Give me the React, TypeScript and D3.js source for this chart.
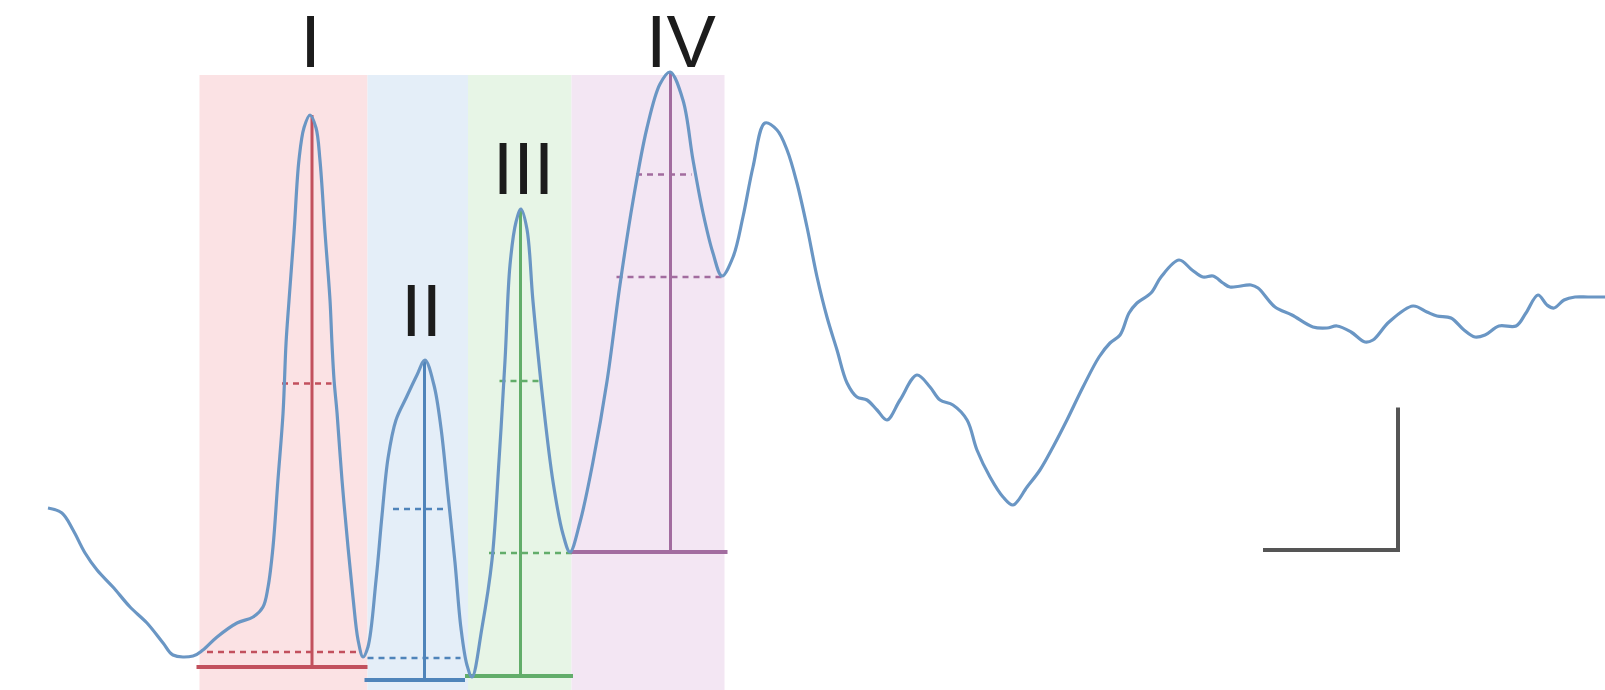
import React, { useEffect } from 'react';
import * as d3 from 'd3';

// ABR trace, [latency ms, amplitude µV]
const abrTrace: [number, number][] = [
  [0.0, -0.032], [0.093, -0.052], [0.167, -0.12], [0.247, -0.212], [0.327, -0.28],
  [0.433, -0.348], [0.547, -0.428], [0.66, -0.492], [0.767, -0.572], [0.833, -0.62],
  [0.967, -0.624], [1.033, -0.6], [1.127, -0.548], [1.26, -0.492], [1.367, -0.468],
  [1.433, -0.428], [1.467, -0.348], [1.5, -0.188], [1.533, 0.08], [1.567, 0.348],
  [1.587, 0.628], [1.607, 0.8], [1.64, 1.068], [1.673, 1.36], [1.707, 1.49],
  [1.747, 1.54], [1.787, 1.488], [1.813, 1.36], [1.847, 1.068], [1.88, 0.8],
  [1.893, 0.628], [1.907, 0.48], [1.927, 0.348], [1.96, 0.08], [2.0, -0.188],
  [2.033, -0.388], [2.067, -0.56], [2.1, -0.628], [2.133, -0.588], [2.187, -0.32],
  [2.227, -0.06], [2.267, 0.168], [2.32, 0.32], [2.387, 0.408], [2.46, 0.5],
  [2.513, 0.56], [2.573, 0.46], [2.62, 0.288], [2.667, 0.02], [2.713, -0.248],
  [2.753, -0.512], [2.793, -0.66], [2.827, -0.708], [2.893, -0.512], [2.96, -0.24],
  [3.007, 0.16], [3.047, 0.56], [3.08, 0.94], [3.12, 1.112], [3.153, 1.164],
  [3.193, 1.084], [3.233, 0.796], [3.3, 0.396], [3.367, 0.072], [3.433, -0.136],
  [3.48, -0.208], [3.547, -0.088], [3.633, 0.152], [3.727, 0.476], [3.813, 0.86],
  [3.9, 1.196], [3.993, 1.488], [4.08, 1.664], [4.147, 1.712], [4.233, 1.6],
  [4.3, 1.36], [4.367, 1.148], [4.433, 0.988], [4.493, 0.896], [4.567, 0.972],
  [4.633, 1.132], [4.7, 1.332], [4.78, 1.508], [4.86, 1.48], [4.927, 1.4],
  [4.993, 1.268], [5.06, 1.092], [5.127, 0.892], [5.193, 0.732], [5.26, 0.6],
  [5.327, 0.468], [5.393, 0.412], [5.46, 0.4], [5.527, 0.36], [5.593, 0.32],
  [5.68, 0.4], [5.793, 0.5], [5.88, 0.452], [5.947, 0.4], [6.033, 0.38],
  [6.127, 0.32], [6.193, 0.2], [6.28, 0.092], [6.367, 0.012], [6.433, -0.02],
  [6.527, 0.052], [6.613, 0.12], [6.7, 0.212], [6.793, 0.32], [6.9, 0.452],
  [7.007, 0.572], [7.08, 0.628], [7.147, 0.66], [7.207, 0.748], [7.26, 0.788],
  [7.353, 0.828], [7.42, 0.892], [7.54, 0.96], [7.627, 0.92], [7.7, 0.892],
  [7.767, 0.896], [7.833, 0.868], [7.88, 0.852], [8.02, 0.86], [8.067, 0.848],
  [8.18, 0.772], [8.293, 0.74], [8.433, 0.692], [8.527, 0.688], [8.593, 0.696],
  [8.687, 0.672], [8.78, 0.632], [8.833, 0.64], [8.94, 0.712], [9.1, 0.776],
  [9.193, 0.752], [9.26, 0.736], [9.353, 0.728], [9.44, 0.68], [9.513, 0.652],
  [9.58, 0.66], [9.673, 0.696], [9.787, 0.696], [9.853, 0.748], [9.933, 0.82],
  [9.993, 0.78], [10.04, 0.768], [10.107, 0.8], [10.18, 0.812], [10.267, 0.812],
  [10.38, 0.812],
];

// waves I-IV
const waveNames = ['I', 'II', 'III', 'IV'];
const windowStart = [1.01, 2.13, 2.8, 3.49];
const windowEnd = [2.13, 2.8, 3.49, 4.51];
const windowTop = 1.7;
const peakLatency = [1.76, 2.51, 3.15, 4.15];
const peakAmp = [1.54, 0.56, 1.164, 1.712];
const troughAmp = [-0.608, -0.632, -0.212, 0.892];
const baseAmp = [-0.668, -0.72, -0.704, -0.208];
const baseSpan = [[0.99, 2.13], [2.11, 2.78], [2.78, 3.5], [3.49, 4.53]];
const troughSpan = [[1.06, 2.09], [2.13, 2.75], [2.94, 3.5], [3.79, 4.49]];
const halfSpan = [[1.56, 1.89], [2.3, 2.67], [3.01, 3.3], [3.92, 4.29]];
const labelLatency = [1.75, 2.49, 3.17, 4.22];
const labelAmp = [1.732, 0.656, 1.224, 1.732];

const fillColors = ['#fbe2e4', '#e4eef8', '#e7f5e6', '#f3e6f3'];
const lineColors = ['#c2505d', '#4f84ba', '#62ad6a', '#a26c9f'];

// scale bar: 0.9 ms x 0.57 µV, corner at (9.0 ms, -0.2 µV)
const scaleBarMs = 0.9;
const scaleBarUv = 0.57;
const scaleBarAt = [9.0, -0.2];

const width = 1605;
const height = 690;

export default function App() {
  useEffect(() => {
    document.body.style.margin = '0';
  }, []);

  const x = d3.scaleLinear().domain([0, 10]).range([48, 1548]);
  const y = d3.scaleLinear().domain([-1, 2]).range([750, 0]);

  const line = d3
    .line<[number, number]>()
    .x((d) => x(d[0]))
    .y((d) => y(d[1]))
    .curve(d3.curveCatmullRom.alpha(0.5));

  return (
    <svg
      width={width}
      height={height}
      style={{ position: 'absolute', left: 0, top: 0, background: '#fff' }}
    >
      {/* shaded windows */}
      {waveNames.map((n, i) => (
        <rect
          key={'w' + n}
          x={x(windowStart[i])}
          y={y(windowTop)}
          width={x(windowEnd[i]) - x(windowStart[i])}
          height={height - y(windowTop)}
          fill={fillColors[i]}
        />
      ))}

      {waveNames.map((n, i) => {
        const half = (peakAmp[i] + troughAmp[i]) / 2;
        return (
          <g key={'m' + n} stroke={lineColors[i]} fill="none">
            <line
              x1={x(troughSpan[i][0])} x2={x(troughSpan[i][1])}
              y1={y(troughAmp[i])} y2={y(troughAmp[i])}
              strokeWidth={2.5} strokeDasharray="6 5"
            />
            <line
              x1={x(halfSpan[i][0])} x2={x(halfSpan[i][1])}
              y1={y(half)} y2={y(half)}
              strokeWidth={2.5} strokeDasharray="6 5"
            />
            <line
              x1={x(baseSpan[i][0])} x2={x(baseSpan[i][1])}
              y1={y(baseAmp[i])} y2={y(baseAmp[i])}
              strokeWidth={4}
            />
            <line
              x1={x(peakLatency[i])} x2={x(peakLatency[i])}
              y1={y(peakAmp[i])} y2={y(baseAmp[i])}
              strokeWidth={3}
            />
          </g>
        );
      })}

      <path
        d={line(abrTrace) || ''}
        fill="none"
        stroke="#6a96c4"
        strokeWidth={3.2}
        strokeLinejoin="round"
      />

      {waveNames.map((n, i) => (
        <text
          key={'t' + n}
          x={x(labelLatency[i])}
          y={y(labelAmp[i])}
          textAnchor="middle"
          fontFamily="'Liberation Sans', Arial, sans-serif"
          fontSize={74}
          fill="#1c1c1c"
        >
          {n}
        </text>
      ))}

      {/* scale bar */}
      <path
        d={`M${x(scaleBarAt[0] - scaleBarMs)},${y(scaleBarAt[1])}H${x(scaleBarAt[0])}V${y(scaleBarAt[1] + scaleBarUv)}`}
        fill="none"
        stroke="#555"
        strokeWidth={4}
      />
    </svg>
  );
}
